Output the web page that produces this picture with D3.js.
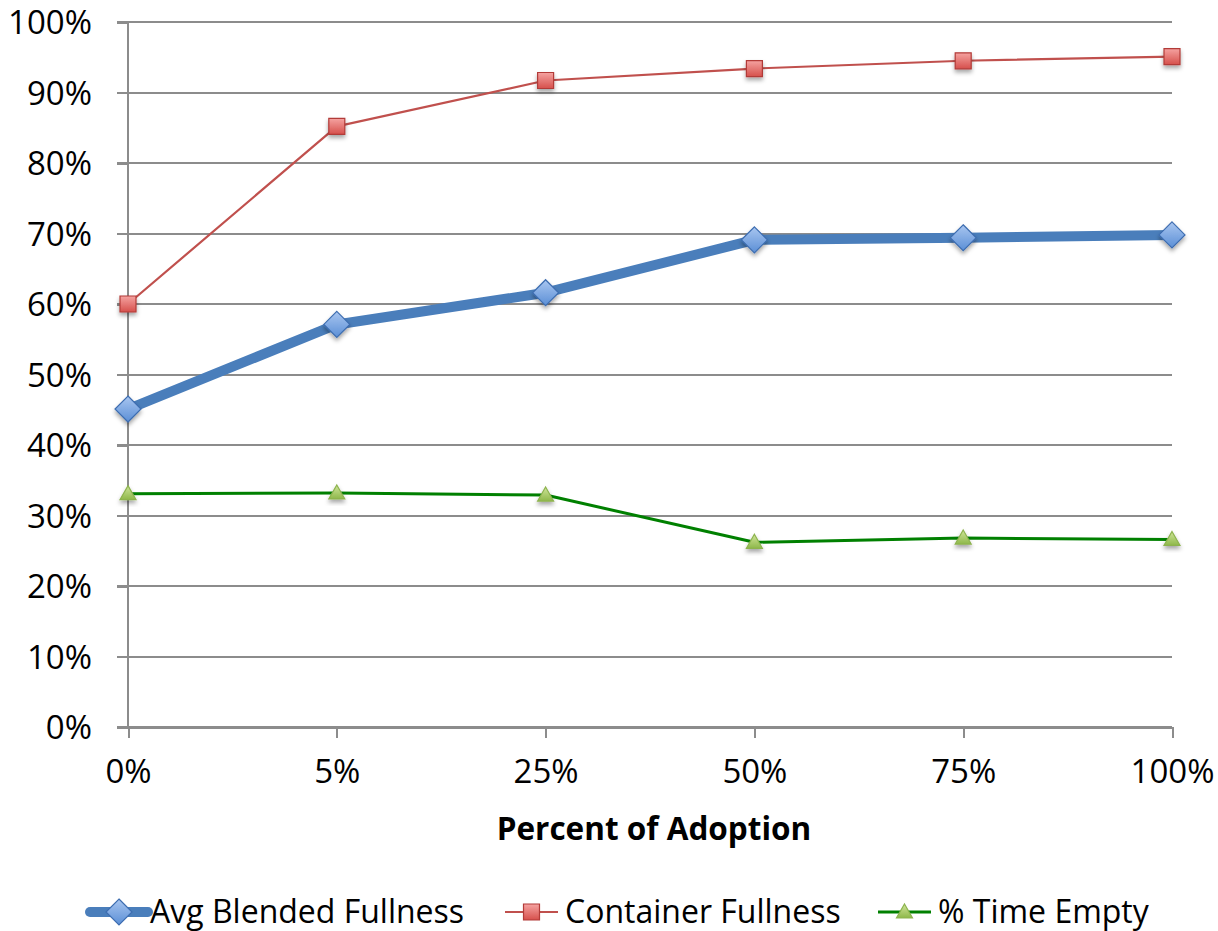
<!DOCTYPE html>
<html>
<head>
<script src="https://cdn.jsdelivr.net/npm/d3@7/dist/d3.min.js"></script>
<style>
  body { margin: 0; background: #fff; }
  svg text { font-family: "Open Sans", "Liberation Sans", sans-serif; fill: #000; }
  .axis path, .axis line { stroke: #8c8c8c; stroke-width: 2; shape-rendering: crispEdges; }
  .grid line { stroke: #8c8c8c; stroke-width: 2; shape-rendering: crispEdges; }
</style>
</head>
<body>
<svg id="chart"></svg>
<script>
var categories = ["0%", "5%", "25%", "50%", "75%", "100%"];
var avgBlended = [0.451, 0.571, 0.616, 0.691, 0.694, 0.698];
var containerFull = [0.600, 0.852, 0.917, 0.934, 0.945, 0.951];
var timeEmpty = [0.331, 0.332, 0.329, 0.262, 0.268, 0.266];
var yTicks = [0, 0.1, 0.2, 0.3, 0.4, 0.5, 0.6, 0.7, 0.8, 0.9, 1.0];

var W = 1218, H = 931;
var margin = {top: 22, left: 128, right: 46, bottom: 204};
var width = W - margin.left - margin.right,
    height = H - margin.top - margin.bottom;

var svg = d3.select("#chart").attr("width", W).attr("height", H);

var defs = svg.append("defs");
function grad(id, c1, c2) {
  var g = defs.append("linearGradient").attr("id", id)
    .attr("x1", 0).attr("y1", 0).attr("x2", 0).attr("y2", 1);
  g.append("stop").attr("offset", "0%").attr("stop-color", c1);
  g.append("stop").attr("offset", "100%").attr("stop-color", c2);
}
grad("gBlue", "#a9c6f0", "#5b8fd6");
grad("gRed", "#f5a3a1", "#d6504c");
grad("gGreen", "#cfe59a", "#8fb84a");
var sh = defs.append("filter").attr("id", "shadow")
  .attr("x", "-50%").attr("y", "-50%").attr("width", "200%").attr("height", "200%");
sh.append("feDropShadow").attr("dx", 0).attr("dy", 3).attr("stdDeviation", 2)
  .attr("flood-color", "#000").attr("flood-opacity", 0.35);

var g = svg.append("g").attr("transform", "translate(" + margin.left + "," + margin.top + ")");

var x = d3.scalePoint().domain(categories).range([0, width]).padding(0);
var y = d3.scaleLinear().domain([0, 1]).range([height, 0]);

// gridlines
g.append("g").attr("class", "grid")
  .selectAll("line").data(yTicks).enter().append("line")
  .attr("x1", -11).attr("x2", width)
  .attr("y1", function(d) { return y(d); })
  .attr("y2", function(d) { return y(d); });

// y axis
var yAxis = d3.axisLeft(y).tickValues(yTicks).tickSize(11).tickPadding(25)
  .tickFormat(d3.format(".0%"));
var ya = g.append("g").attr("class", "axis").call(yAxis);
ya.select(".domain").attr("d", "M0," + height + "V0");
ya.selectAll("text").style("font-size", "33px").attr("dy", "0.35em");

// x axis
var xAxis = d3.axisBottom(x).tickSize(11).tickSizeOuter(0).tickPadding(22);
var xa = g.append("g").attr("class", "axis")
  .attr("transform", "translate(0," + height + ")").call(xAxis);
xa.selectAll("text").style("font-size", "33px");

g.append("text")
  .attr("x", width / 2 + 4).attr("y", height + 113)
  .attr("text-anchor", "middle")
  .style("font-size", "31.5px").style("font-weight", "bold")
  .text("Percent of Adoption");

var series = [
  {name: "Avg Blended Fullness", values: avgBlended, color: "#4a7ebb", width: 10, marker: "diamond", fill: "url(#gBlue)", stroke: "#3d6db0"},
  {name: "Container Fullness", values: containerFull, color: "#c0504d", width: 2.2, marker: "square", fill: "url(#gRed)", stroke: "#b23b38"},
  {name: "% Time Empty", values: timeEmpty, color: "#008000", width: 3, marker: "triangle", fill: "url(#gGreen)", stroke: "#8db34e"}
];

function markerPath(m) {
  if (m === "diamond") return "M0,-13L13,0L0,13L-13,0Z";
  if (m === "square") return "M-8,-8H8V8H-8Z";
  return "M0,-8L8,6H-8Z";
}

var line = d3.line()
  .x(function(d, i) { return x(categories[i]); })
  .y(function(d) { return y(d); });

series.forEach(function(s) {
  g.append("path").datum(s.values)
    .attr("fill", "none").attr("stroke", s.color)
    .attr("stroke-width", s.width).attr("stroke-linejoin", "round")
    .attr("d", line);
});
series.forEach(function(s) {
  g.selectAll(".m-" + s.marker).data(s.values).enter().append("path")
    .attr("class", "m-" + s.marker)
    .attr("transform", function(d, i) { return "translate(" + x(categories[i]) + "," + y(d) + ")"; })
    .attr("d", markerPath(s.marker))
    .attr("fill", s.fill).attr("stroke", s.stroke).attr("stroke-width", 1.2)
    .attr("filter", "url(#shadow)");
});

// legend
var legendX = [90, 505, 878];
var legendLen = [58, 53, 53];
var leg = svg.append("g").attr("transform", "translate(0,912)");
series.forEach(function(s, i) {
  var lg = leg.append("g").attr("transform", "translate(" + legendX[i] + ",0)");
  lg.append("line").attr("x1", 0).attr("x2", legendLen[i]).attr("y1", 0).attr("y2", 0)
    .attr("stroke", s.color).attr("stroke-width", s.width).attr("stroke-linecap", i === 0 ? "round" : "butt");
  lg.append("path").attr("transform", "translate(" + (legendLen[i] / 2) + ",0)")
    .attr("d", markerPath(s.marker))
    .attr("fill", s.fill).attr("stroke", s.stroke).attr("stroke-width", 1.2);
  lg.append("text").attr("x", legendLen[i] + (i === 0 ? 2 : 7)).attr("y", 0).attr("dy", "0.35em")
    .style("font-size", "32px").text(s.name);
});
</script>
</body>
</html>
